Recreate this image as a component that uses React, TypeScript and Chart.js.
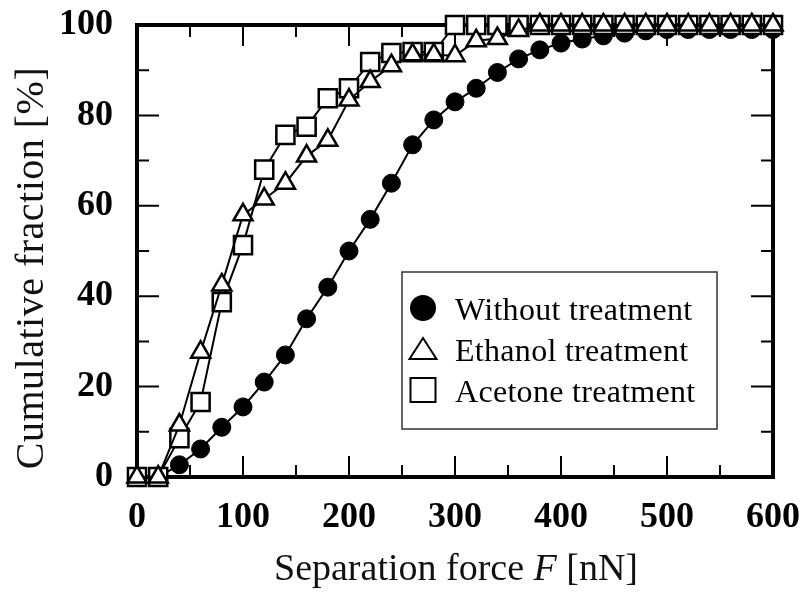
import React, { useEffect, useRef } from 'react';
import { Chart, registerables } from 'chart.js';

Chart.register(...registerables);

// ---- data ----
const separationForce = [
  0, 20, 40, 60, 80, 100, 120, 140, 160, 180, 200, 220, 240, 260, 280, 300,
  320, 340, 360, 380, 400, 420, 440, 460, 480, 500, 520, 540, 560, 580, 600,
];
const withoutTreatment = [
  0, 0, 2.7, 6.2, 11, 15.5, 21, 27, 35, 42, 50, 57, 65, 73.5, 79, 83,
  86, 89.5, 92.5, 94.5, 96, 96.9, 97.6, 98.2, 98.7, 99, 99, 99, 99, 99, 99,
];
const ethanolTreatment = [
  0, 0, 11.5, 27.6, 42.5, 58, 61.5, 65, 71, 74.5, 83.4, 87.5, 91, 93.4, 93.4, 93.2,
  96.5, 97, 98.8, 100, 100, 100, 100, 100, 100, 100, 100, 100, 100, 100, 100,
];
const acetoneTreatment = [
  0, 0, 8.6, 16.6, 38.7, 51.3, 68, 75.7, 77.5, 83.8, 86, 91.8, 93.8, 94, 94, 100,
  100, 100, 100, 100, 100, 100, 100, 100, 100, 100, 100, 100, 100, 100, 100,
];
const seriesLabels = ['Without treatment', 'Ethanol treatment', 'Acetone treatment'];
const xMajorTicks = [0, 100, 200, 300, 400, 500, 600];
const xMinorTicks = [50, 150, 250, 350, 450, 550];
const yMajorTicks = [0, 20, 40, 60, 80, 100];
const yMinorTicks = [10, 30, 50, 70, 90];
const xTitleParts = ['Separation force ', 'F', ' [nN]'];
const yTitle = 'Cumulative fraction [%]';

const SERIF = '"Liberation Serif", "Times New Roman", serif';

const toPoints = (ys: number[]) => separationForce.map((x, i) => ({ x, y: ys[i] }));

const zeroPadding = (s: any) => {
  s.paddingTop = 0;
  s.paddingBottom = 0;
  s.paddingLeft = 0;
  s.paddingRight = 0;
};

const frameTicksPlugin = {
  id: 'frameTicks',
  beforeDatasetsDraw(chart: any) {
    const { ctx, chartArea, scales } = chart;
    const { left, right, top, bottom } = chartArea;
    const xs = scales.x;
    const ys = scales.y;
    ctx.save();
    ctx.strokeStyle = '#000';
    ctx.lineWidth = 2;
    ctx.beginPath();
    const xt = (v: number, len: number) => {
      const px = xs.getPixelForValue(v);
      ctx.moveTo(px, bottom);
      ctx.lineTo(px, bottom - len);
      ctx.moveTo(px, top);
      ctx.lineTo(px, top + len);
    };
    const yt = (v: number, len: number) => {
      const py = ys.getPixelForValue(v);
      ctx.moveTo(left, py);
      ctx.lineTo(left + len, py);
      ctx.moveTo(right, py);
      ctx.lineTo(right - len, py);
    };
    xMajorTicks.forEach((v) => xt(v, 21));
    xMinorTicks.forEach((v) => xt(v, 12));
    yMajorTicks.forEach((v) => yt(v, 22));
    yMinorTicks.forEach((v) => yt(v, 12));
    ctx.stroke();
    ctx.lineWidth = 4;
    ctx.strokeRect(left, top, right - left, bottom - top);
    ctx.restore();
  },
};

const titlesPlugin = {
  id: 'axisTitles',
  afterDraw(chart: any) {
    const { ctx, chartArea } = chart;
    ctx.save();
    ctx.fillStyle = '#111';
    ctx.textBaseline = 'alphabetic';
    const fonts = [`38px ${SERIF}`, `italic 38px ${SERIF}`, `38px ${SERIF}`];
    let total = 0;
    const widths = xTitleParts.map((t, i) => {
      ctx.font = fonts[i];
      const w = ctx.measureText(t).width;
      total += w;
      return w;
    });
    const cx = (chartArea.left + chartArea.right) / 2 + 1;
    let x = cx - total / 2;
    xTitleParts.forEach((t, i) => {
      ctx.font = fonts[i];
      ctx.textAlign = 'left';
      ctx.fillText(t, x, 580);
      x += widths[i];
    });
    ctx.translate(43, 268);
    ctx.rotate(-Math.PI / 2);
    ctx.font = `40px ${SERIF}`;
    try { (ctx as any).letterSpacing = '0.5px'; } catch (e) {}
    ctx.textAlign = 'center';
    ctx.fillText(yTitle, 0, 0);
    ctx.restore();
  },
};

const legendPlugin = {
  id: 'boxLegend',
  afterDatasetsDraw(chart: any) {
    const { ctx } = chart;
    ctx.save();
    const bx = 402, by = 272, bw = 315, bh = 157;
    ctx.fillStyle = '#fff';
    ctx.fillRect(bx, by, bw, bh);
    ctx.strokeStyle = '#333';
    ctx.lineWidth = 1.5;
    ctx.strokeRect(bx, by, bw, bh);
    const mx = 423;
    const rows = [308, 349, 390];
    const baselines = [320, 361, 402];
    ctx.strokeStyle = '#000';
    ctx.lineWidth = 2;
    ctx.fillStyle = '#000';
    ctx.beginPath();
    ctx.arc(mx, rows[0], 13, 0, Math.PI * 2);
    ctx.fill();
    ctx.fillStyle = '#fff';
    ctx.beginPath();
    ctx.moveTo(mx, rows[1] - 11);
    ctx.lineTo(mx + 13.5, rows[1] + 10);
    ctx.lineTo(mx - 13.5, rows[1] + 10);
    ctx.closePath();
    ctx.fill();
    ctx.stroke();
    ctx.beginPath();
    ctx.rect(mx - 12.5, rows[2] - 12, 25, 24);
    ctx.fill();
    ctx.stroke();
    ctx.fillStyle = '#000';
    ctx.font = `32px ${SERIF}`;
    ctx.textAlign = 'left';
    ctx.textBaseline = 'alphabetic';
    try { (ctx as any).letterSpacing = '0.3px'; } catch (e) {}
    seriesLabels.forEach((t, i) => ctx.fillText(t, 455, baselines[i]));
    ctx.restore();
  },
};

export default function App() {
  const canvasRef = useRef<HTMLCanvasElement | null>(null);

  useEffect(() => {
    if (!canvasRef.current) return;
    const chart = new Chart(canvasRef.current, {
      type: 'line',
      data: {
        datasets: [
          {
            label: seriesLabels[1],
            data: toPoints(ethanolTreatment),
            order: 0,
            borderColor: '#000',
            borderWidth: 2,
            pointStyle: 'triangle',
            pointRadius: 11,
            pointBackgroundColor: '#fff',
            pointBorderColor: '#000',
            pointBorderWidth: 2.5,
            tension: 0,
            clip: false,
          },
          {
            label: seriesLabels[2],
            data: toPoints(acetoneTreatment),
            order: 1,
            borderColor: '#000',
            borderWidth: 2,
            pointStyle: 'rect',
            pointRadius: 12.8,
            pointBackgroundColor: '#fff',
            pointBorderColor: '#000',
            pointBorderWidth: 2.5,
            tension: 0,
            clip: false,
          },
          {
            label: seriesLabels[0],
            data: toPoints(withoutTreatment),
            order: 2,
            borderColor: '#000',
            borderWidth: 2,
            pointStyle: 'circle',
            pointRadius: 9,
            pointBackgroundColor: '#000',
            pointBorderColor: '#000',
            pointBorderWidth: 1,
            tension: 0,
            clip: false,
          },
        ],
      } as any,
      options: {
        animation: false,
        responsive: false,
        devicePixelRatio: 1,
        events: [],
        layout: { autoPadding: false, padding: { left: 0, right: 33, top: 25, bottom: 0 } },
        plugins: { legend: { display: false }, tooltip: { enabled: false } },
        scales: {
          x: {
            type: 'linear',
            min: 0,
            max: 600,
            grid: { display: false, drawTicks: false },
            border: { display: false },
            ticks: {
              stepSize: 100,
              padding: 19,
              color: '#000',
              font: { family: SERIF, size: 36, weight: 'bold' },
              maxRotation: 0,
            },
            afterFit: (s: any) => { s.height = 116; zeroPadding(s); },
          },
          y: {
            type: 'linear',
            min: 0,
            max: 100,
            grid: { display: false, drawTicks: false },
            border: { display: false },
            ticks: {
              stepSize: 20,
              padding: 24,
              color: '#000',
              font: { family: SERIF, size: 36, weight: 'bold' },
            },
            afterFit: (s: any) => { s.width = 137; zeroPadding(s); },
          },
        },
      } as any,
      plugins: [frameTicksPlugin, legendPlugin, titlesPlugin],
    });
    return () => chart.destroy();
  }, []);

  return (
    <div style={{ position: 'absolute', left: 0, top: 0, width: 806, height: 593, background: '#fff' }}>
      <canvas ref={canvasRef} width={806} height={593} style={{ display: 'block' }} />
    </div>
  );
}
